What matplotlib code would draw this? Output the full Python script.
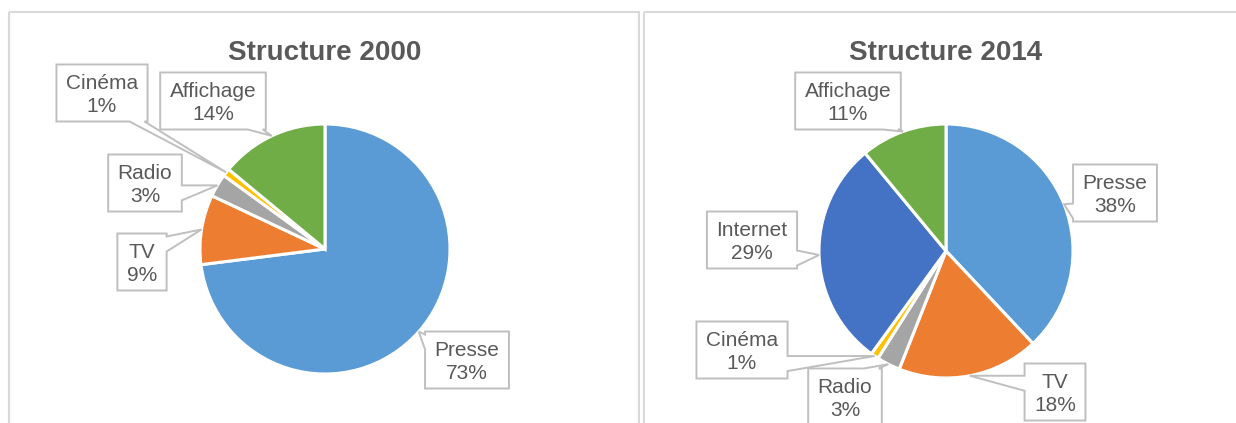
import matplotlib
matplotlib.use("Agg")
import matplotlib.pyplot as plt
from matplotlib.patches import Polygon, Rectangle
import numpy as np

# Media advertising spend structure (% of total)
categories_2000 = ["Presse", "TV", "Radio", "Cinéma", "Affichage"]
shares_2000 = [73, 9, 3, 1, 14]

categories_2014 = ["Presse", "TV", "Radio", "Cinéma", "Internet", "Affichage"]
shares_2014 = [38, 18, 3, 1, 29, 11]

titles = ["Structure 2000", "Structure 2014"]

COLORS = {
    "Presse": "#5B9BD5",
    "TV": "#ED7D31",
    "Radio": "#A5A5A5",
    "Cinéma": "#FFC000",
    "Internet": "#4472C4",
    "Affichage": "#70AD47",
}
TEXT = "#595959"
BOX_EDGE = "#BFBFBF"
PANEL_EDGE = "#D9D9D9"

W, H = 1236, 423

plt.rcParams["font.family"] = ["Liberation Sans", "DejaVu Sans"]

fig = plt.figure(figsize=(W / 100, H / 100), dpi=100)
ax = fig.add_axes([0, 0, 1, 1])

# layout in pixel units (y grows downward)
panels = [
    dict(center=(325, 249), radius=125,
         labels={"Cinéma": (102, 93), "Affichage": (213, 101), "Radio": (145, 183),
                 "TV": (142, 262), "Presse": (467, 360)}),
    dict(center=(946, 251), radius=127,
         labels={"Affichage": (848, 101), "Presse": (1115, 193), "Internet": (752, 240),
                 "Cinéma": (742, 350), "Radio": (845, 397), "TV": (1055, 392)}),
]
datasets = [(categories_2000, shares_2000), (categories_2014, shares_2014)]

BOX_H = 57


def callout(cx, cy, w, h, tip, base=15):
    x0, x1 = cx - w / 2, cx + w / 2
    y0, y1 = cy - h / 2, cy + h / 2
    tx, ty = tip
    nx = (tx - cx) / (w / 2)
    ny = (ty - cy) / (h / 2)
    if abs(nx) >= abs(ny) * 1.06:
        side = "right" if nx > 0 else "left"
        s = float(np.clip(ty, y0 + 3, y1 - 3 - base))
    else:
        side = "bottom" if ny > 0 else "top"
        s = float(np.clip(tx, x0 + 3, x1 - 3 - base))
    pts = [(x0, y0)]
    if side == "top":
        pts += [(s, y0), (tx, ty), (s + base, y0)]
    pts += [(x1, y0)]
    if side == "right":
        pts += [(x1, s), (tx, ty), (x1, s + base)]
    pts += [(x1, y1)]
    if side == "bottom":
        pts += [(s + base, y1), (tx, ty), (s, y1)]
    pts += [(x0, y1)]
    if side == "left":
        pts += [(x0, s + base), (tx, ty), (x0, s)]
    ax.add_patch(Polygon(pts, closed=True, facecolor="white", edgecolor=BOX_EDGE,
                         linewidth=1.4, joinstyle="miter", zorder=3))


# draw pies (inverted y axis: start at -90 and go counter-clockwise in data = clockwise on screen)
for (cats, vals), p in zip(datasets, panels):
    ax.pie(vals, colors=[COLORS[c] for c in cats], center=p["center"], radius=p["radius"],
           startangle=-90, counterclock=True,
           wedgeprops=dict(edgecolor="white", linewidth=2.2))

ax.set_xlim(0, W)
ax.set_ylim(H, 0)
ax.set_aspect("auto")
ax.axis("off")

# panel frames
ax.add_patch(Rectangle((8.5, 12.5), 630, 450, fill=False, edgecolor=PANEL_EDGE, linewidth=1.5, zorder=0))
ax.add_patch(Rectangle((643.5, 12.5), 650, 450, fill=False, edgecolor=PANEL_EDGE, linewidth=1.5, zorder=0))

fig.canvas.draw()
renderer = fig.canvas.get_renderer()

for (cats, vals), p, title in zip(datasets, panels, titles):
    cx, cy = p["center"]
    r = p["radius"]
    ax.text(cx, 60, title, ha="center", va="baseline", fontsize=20, fontweight="bold",
            color=TEXT, zorder=5)
    total = float(sum(vals))
    cum = 0.0
    for cat, v in zip(cats, vals):
        mid = (cum + v / 2) / total * 360.0
        cum += v
        a = np.deg2rad(mid)
        tip = (cx + r * np.sin(a), cy - r * np.cos(a))
        bx, by = p["labels"][cat]
        t = ax.text(bx, by + 2, f"{cat}\n{v}%", ha="center", va="center", fontsize=15,
                    color=TEXT, linespacing=1.22, zorder=5)
        bb = t.get_window_extent(renderer)
        w = bb.width + 19
        callout(bx, by, w, BOX_H, tip)

fig.savefig("out.png", dpi=100, facecolor="white")
